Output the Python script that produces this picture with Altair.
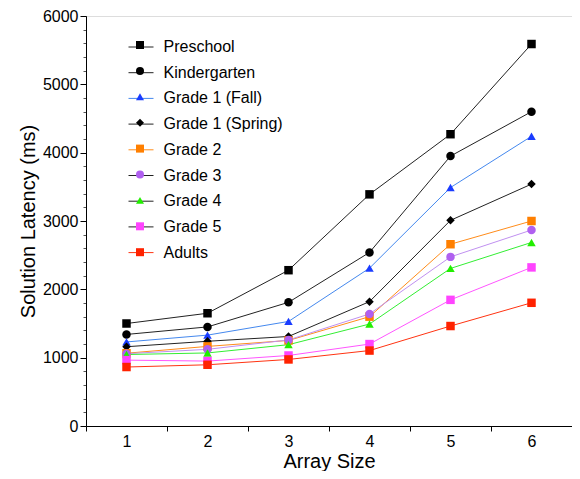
import altair as alt
import pandas as pd

sizes = [1, 2, 3, 4, 5, 6]
groups = ["Preschool", "Kindergarten", "Grade 1 (Fall)", "Grade 1 (Spring)",
          "Grade 2", "Grade 3", "Grade 4", "Grade 5", "Adults"]

preschool = [1500, 1650, 2280, 3390, 4270, 5590]
kindergarten = [1340, 1450, 1810, 2540, 3950, 4600]
grade1_fall = [1230, 1330, 1530, 2310, 3490, 4240]
grade1_spring = [1160, 1240, 1310, 1820, 3010, 3540]
grade2 = [1065, 1165, 1252, 1600, 2660, 3000]
grade3 = [1058, 1122, 1259, 1640, 2475, 2868]
grade4 = [1046, 1069, 1190, 1492, 2306, 2686]
grade5 = [964, 950, 1032, 1199, 1846, 2321]
adults = [863, 896, 974, 1104, 1463, 1803]

series = [preschool, kindergarten, grade1_fall, grade1_spring,
          grade2, grade3, grade4, grade5, adults]

shapes = ["square", "circle", "triangle-up", "diamond", "square",
          "circle", "triangle-up", "square", "square"]
marker_colors = ["#000000", "#000000", "#1a3cff", "#000000", "#ff7f00",
                 "#b060f0", "#22ee00", "#ff44ff", "#ff2200"]
line_colors = ["#222222", "#222222", "#4488ee", "#222222", "#ff8c1a",
               "#c090f0", "#33ee33", "#ff55ff", "#ff3311"]
legend_line_colors = ["#222222", "#222222", "#4488ee", "#222222", "#ff8c1a",
                      "#222222", "#222222", "#222222", "#ff3311"]

major_ticks = [0, 1000, 2000, 3000, 4000, 5000, 6000]
minor_ticks = list(range(0, 6001, 200))

rows = []
for g, vals in zip(groups, series):
    for s, v in zip(sizes, vals):
        rows.append({"group": g, "size": s, "latency": v})
df = pd.DataFrame(rows)

FONT = "Liberation Sans"

x_enc = alt.X("size:O", scale=alt.Scale(type="band", paddingInner=0, paddingOuter=0),
              axis=alt.Axis(tickBand="extent", labelAngle=0, tickSize=5, labelPadding=2,
                            labelFontSize=16, labelFont=FONT, labelColor="black",
                            title="Array Size", titleFontSize=20, titleFont=FONT,
                            titleFontWeight="normal", titleColor="black", titlePadding=2,
                            domainColor="black", tickColor="black", grid=False))

y_scale = alt.Scale(domain=[0, 6000], nice=False)

legend_common = dict(orient="none", title=None, padding=0, labelFontSize=16,
                     labelFont=FONT, labelColor="black")

# legend-only layer (single point per group -> no visible line)
legend_layer = alt.Chart(df[df["size"] == 1]).mark_line(strokeWidth=1).encode(
    x=x_enc,
    y=alt.Y("latency:Q", scale=y_scale,
            axis=alt.Axis(values=minor_ticks, labels=False, tickSize=3, domain=False,
                          orient="left", grid=False, title=None, tickColor="#555555")),
    color=alt.Color("group:N", sort=groups,
                    scale=alt.Scale(domain=groups, range=legend_line_colors),
                    legend=alt.Legend(symbolType="stroke", symbolSize=625,
                                      symbolStrokeWidth=1, labelOffset=9.5,
                                      legendX=42, legendY=18, rowPadding=4.7,
                                      **legend_common)),
)

lines = alt.Chart(df).mark_line(strokeWidth=1).encode(
    x=x_enc,
    y=alt.Y("latency:Q", scale=y_scale,
            axis=alt.Axis(values=major_ticks, format="d", tickSize=6, labelPadding=2,
                          orient="left",
                          labelFontSize=16, labelFont=FONT, labelColor="black",
                          title="Solution Latency (ms)", titleFontSize=20, titleFont=FONT,
                          titleFontWeight="normal", titleColor="black", titlePadding=4,
                          domainColor="black", tickColor="black", grid=False)),
    color=alt.Color("group:N", sort=groups,
                    scale=alt.Scale(domain=groups, range=line_colors), legend=None),
    detail="group:N",
)

pt_legend = alt.Legend(symbolSize=64, symbolStrokeWidth=0, labelExpr="''",
                       legendX=46, legendY=21, rowPadding=9.9, **legend_common)
points = alt.Chart(df).mark_point(filled=True, size=72, opacity=1).encode(
    x=x_enc,
    y=alt.Y("latency:Q", scale=y_scale, axis=None),
    color=alt.Color("group:N", sort=groups,
                    scale=alt.Scale(domain=groups, range=marker_colors), legend=pt_legend),
    shape=alt.Shape("group:N", sort=groups,
                    scale=alt.Scale(domain=groups, range=shapes), legend=pt_legend),
)

chart = alt.layer(legend_layer, lines, points).resolve_scale(
    color="independent", shape="independent"
).resolve_axis(y="independent").properties(
    width=486, height=410,
    autosize=alt.AutoSizeParams(type="none"),
    padding={"left": 78, "top": 8, "right": 0, "bottom": 45},
).configure_view(stroke="black", strokeWidth=1).configure(background="white")

chart.save("out.html", embed_options={"renderer": "svg", "actions": False})
